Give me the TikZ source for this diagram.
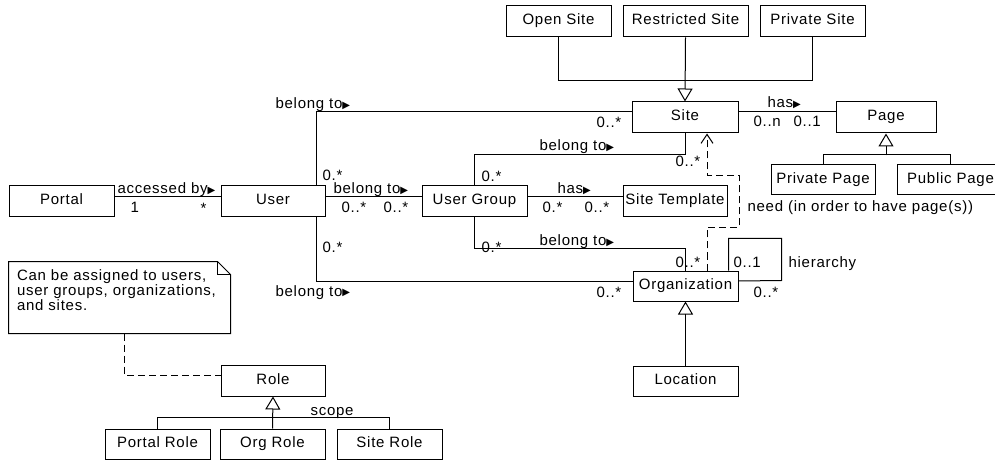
\documentclass[tikz,border=0pt]{standalone}
\usepackage{fontspec}
\setmainfont{Liberation Sans}[LetterSpace=5]
\newfontfamily\glyphfont{DejaVu Sans}
\usetikzlibrary{arrows.meta}
% small filled reading-direction marker after association names
\newcommand{\readdir}{{\glyphfont\fontsize{10}{10}\selectfont\raisebox{0.8pt}{▶}}}

\begin{document}
\begin{tikzpicture}[x=1pt,y=-1pt,
  line width=1pt,
  font=\fontsize{15}{18}\selectfont,
  cls/.style={draw, line width=1pt, inner sep=0pt, minimum height=31pt,
    text height=11pt, text depth=4pt},
  lbl/.style={anchor=base west, inner sep=0pt},
  gen/.style={-{Triangle[open,length=13pt,width=15pt]}},
  dep/.style={dash pattern=on 7pt off 4pt},
  need/.style={dep, -{Straight Barb[length=9pt,width=12pt]}},
  notebox/.style={inner xsep=8pt, inner ysep=8pt, font=\fontsize{15}{13}\selectfont}
]
\fill[white] (0,0) rectangle (995,462);
\useasboundingbox (0,0) rectangle (995,462);
\clip (0,0) rectangle (995,462);

% ---- classes ----
\node[cls, minimum width=105pt] (opensite)   at (558.5,21.5) {Open Site};
\node[cls, minimum width=125pt] (restricted) at (685.5,21.5) {Restricted Site};
\node[cls, minimum width=105pt] (privatesite) at (812.5,21.5) {Private Site};
\node[cls, minimum width=106pt] (site) at (685,117.5) {Site};
\node[cls, minimum width=100pt] (page) at (886,117.5) {Page};
\node[cls, minimum width=104pt, minimum height=30pt] (privatepage) at (823,180) {Private Page};
\node[cls, minimum width=107pt, minimum height=30pt] (publicpage) at (950.5,180) {Public Page};
\node[cls, minimum width=105pt] (portal) at (61.5,201.5) {Portal};
\node[cls, minimum width=104pt] (user) at (273,201.5) {User};
\node[cls, minimum width=105pt] (usergroup) at (474.5,201.5) {User Group};
\node[cls, minimum width=104pt] (sitetemplate) at (675,201.5) {Site Template};
\node[cls, minimum width=105pt, minimum height=30pt] (org) at (685.5,286) {Organization};
\node[cls, minimum width=105pt, minimum height=30pt] (location) at (685.5,381) {Location};
\node[cls, minimum width=104pt] (role) at (273,380.5) {Role};
\node[cls, minimum width=105pt, minimum height=30pt] (portalrole) at (157.5,444) {Portal Role};
\node[cls, minimum width=105pt, minimum height=30pt] (orgrole) at (272.5,444) {Org Role};
\node[cls, minimum width=105pt, minimum height=30pt] (siterole) at (389.5,444) {Site Role};

% ---- note with folded corner ----
\node[notebox] (note) at (119.5,297.5)
  {\begin{minipage}[c][55pt][t]{205pt}\raggedright
   Can be assigned to users,\\ user groups, organizations,\\ and sites.\end{minipage}};
\draw (note.north west) -- ([xshift=-13pt]note.north east)
  -- ([yshift=-13pt]note.north east) -- (note.south east)
  -- (note.south west) -- cycle;
\draw ([xshift=-13pt]note.north east) |- ([yshift=-13pt]note.north east);
\draw[dep] ([xshift=116pt]note.south west) |- ([yshift=5.5pt]role.west);

% ---- associations ----
\draw ([yshift=4.5pt]portal.east) -- ([yshift=4.5pt]user.west);
\draw ([yshift=4.5pt]user.east) -- ([yshift=4.5pt]usergroup.west);
\draw ([yshift=4.5pt]usergroup.east) -- ([yshift=4.5pt]sitetemplate.west);
\draw ([xshift=-9pt]user.north east) |- ([yshift=5.5pt]site.west);
\draw ([xshift=-9pt]user.south east) |- ([yshift=5pt]org.west);
\draw (usergroup.north) |- ([yshift=-21pt]site.south) -- (site.south);
\draw (usergroup.south) |- ([yshift=22pt]org.north) -- (org.north);
\draw ([yshift=5.5pt]site.east) -- ([yshift=5.5pt]page.west);
\draw ([xshift=-10pt]org.north east) -- ++(0,-32) -- ++(53,0) -- ++(0,42)
  -- ([yshift=5pt]org.east);
\draw[need] ([xshift=21.5pt]org.north) -- ++(0,-43) -- ++(32,0) -- ++(0,-52)
  -- ++(-32,0) -- ([xshift=22pt]site.south);

% ---- generalizations ----
\draw (opensite.south) -- ++(0,43) -| (privatesite.south);
\draw[gen] (restricted.south) -- (site.north);
\draw (privatepage.north) -- ++(0,-10) -| (publicpage.north);
\draw[gen] ([yshift=-22pt]page.south) -- (page.south);
\draw[gen] (location.north) -- (org.south);
\draw (portalrole.north) -- ++(0,-11) -| (siterole.north);
\draw[gen] (orgrole.north) -- (role.south);

% ---- labels ----
\node[lbl] (lb1) at (275,109) {belong to\readdir};
\node[lbl] (lb2) at (275,296) {belong to\readdir};
\node[lbl] (lb3) at (117,194) {accessed by\readdir};
\node[lbl] (lb4) at (333,194) {belong to\readdir};
\node[lbl] (lb5) at (539,151) {belong to\readdir};
\node[lbl] (lb6) at (539,246) {belong to\readdir};
\node[lbl] (lb7) at (557,194) {has\readdir};
\node[lbl] (lb8) at (767,108) {has\readdir};
\node[lbl] (lb9) at (788,267) {hierarchy};
\node[lbl] (lb10) at (747,212) {need (in order to have page(s))};
\node[lbl] (lb11) at (310,415) {scope};

\node[lbl] (m1) at (130,213) {1};
\node[lbl] (m2) at (200,214) {*};
\node[lbl] (m3) at (322,181) {0.*};
\node[lbl] (m4) at (341,213) {0..*};
\node[lbl] (m5) at (383,213) {0..*};
\node[lbl] (m6) at (322,253) {0.*};
\node[lbl] (m7) at (675,167) {0..*};
\node[lbl] (m8) at (481,182) {0.*};
\node[lbl] (m9) at (542,213) {0.*};
\node[lbl] (m10) at (584,213) {0..*};
\node[lbl] (m11) at (481,252) {0.*};
\node[lbl] (m12) at (675,267) {0..*};
\node[lbl] (m13) at (596,297) {0..*};
\node[lbl] (m14) at (733,267) {0..1};
\node[lbl] (m15) at (753,297) {0..*};
\node[lbl] (m16) at (596,128) {0..*};
\node[lbl] (m17) at (753,127) {0..n};
\node[lbl] (m18) at (793,127) {0..1};
\end{tikzpicture}
\end{document}
